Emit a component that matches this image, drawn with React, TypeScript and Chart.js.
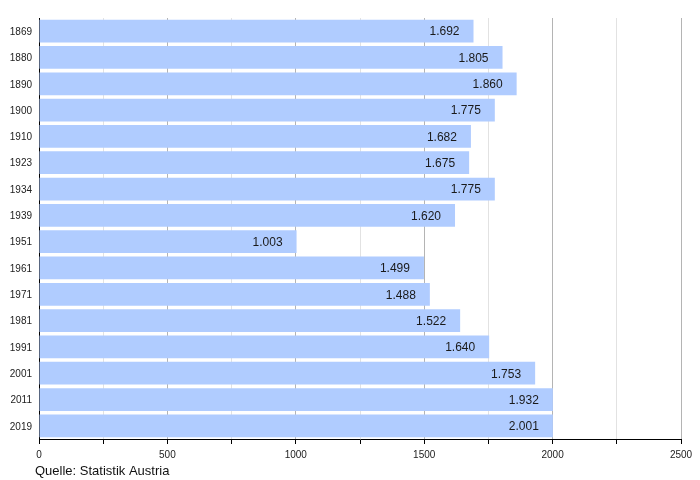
import React, { useEffect, useRef } from "react";
import { Chart, registerables } from "chart.js";

Chart.register(...registerables);

const years = ["1869", "1880", "1890", "1900", "1910", "1923", "1934", "1939", "1951", "1961", "1971", "1981", "1991", "2001", "2011", "2019"];
// bar lengths as drawn in the reference
const barValues = [1692, 1805, 1860, 1775, 1682, 1675, 1775, 1620, 1003, 1499, 1522, 1640, 1753, 1932, 2001, 2001];
// value labels as printed in the reference
const labelValues = ["1.692", "1.805", "1.860", "1.775", "1.682", "1.675", "1.775", "1.620", "1.003", "1.499", "1.488", "1.522", "1.640", "1.753", "1.932", "2.001"];
const xTicksMax = 2500;
const sourceText = "Quelle: Statistik Austria";

const FONT = "'Liberation Sans', Arial, sans-serif";

const valueLabelPlugin = {
  id: "valueLabels",
  afterDatasetsDraw(chart: any) {
    const ctx = chart.ctx;
    const meta = chart.getDatasetMeta(0);
    ctx.save();
    ctx.font = `12px ${FONT}`;
    ctx.fillStyle = "#1a1a1a";
    ctx.textAlign = "right";
    ctx.textBaseline = "middle";
    meta.data.forEach((bar: any, i: number) => {
      ctx.fillText(labelValues[i], bar.x - 14, bar.y + 1);
    });
    ctx.restore();
  },
};

const sourcePlugin = {
  id: "sourceText",
  afterDraw(chart: any) {
    const ctx = chart.ctx;
    ctx.save();
    ctx.font = `13px ${FONT}`;
    ctx.fillStyle = "#111";
    ctx.textAlign = "left";
    ctx.textBaseline = "middle";
    ctx.fillText(sourceText, 35, 471);
    ctx.restore();
  },
};

export default function App() {
  const ref = useRef<HTMLCanvasElement | null>(null);
  useEffect(() => {
    if (!ref.current) return;
    const chart = new Chart(ref.current, {
      type: "bar",
      data: {
        labels: years,
        datasets: [
          {
            data: barValues,
            backgroundColor: "rgb(176,204,255)",
            borderWidth: 0,
            barPercentage: 0.865,
            categoryPercentage: 1,
          },
        ],
      },
      options: {
        indexAxis: "y",
        animation: false,
        responsive: false,
        maintainAspectRatio: false,
        layout: { padding: { left: 0, right: 19, top: 18, bottom: 0 } },
        plugins: {
          legend: { display: false },
          tooltip: { enabled: false },
        },
        scales: {
          x: {
            min: 0,
            max: xTicksMax,
            afterFit: (s: any) => {
              s.height = 41;
            },
            ticks: {
              stepSize: 250,
              autoSkip: false,
              maxRotation: 0,
              padding: 5,
              color: "#222",
              font: { family: FONT, size: 10 },
              callback: (v: any) => (Number(v) % 500 === 0 ? String(v) : ""),
            },
            grid: {
              color: (c: any) => (c.tick && c.tick.value % 500 === 0 ? "#b4b4b4" : "#e2e2e2"),
              tickColor: "#000",
              tickLength: 5,
              lineWidth: 1,
            },
            border: { display: true, color: "#000", width: 1 },
          },
          y: {
            afterFit: (s: any) => {
              s.width = 39;
            },
            ticks: {
              padding: 7,
              labelOffset: 1,
              color: "#222",
              font: { family: FONT, size: 10 },
            },
            grid: { display: false, drawTicks: false },
            border: { display: true, color: "#000", width: 1 },
          },
        },
      },
      plugins: [valueLabelPlugin, sourcePlugin],
    });
    return () => chart.destroy();
  }, []);
  return (
    <div style={{ position: "absolute", left: 0, top: 0, width: 700, height: 480, background: "#fff" }}>
      <canvas ref={ref} width={700} height={480} style={{ width: 700, height: 480 }} />
    </div>
  );
}
